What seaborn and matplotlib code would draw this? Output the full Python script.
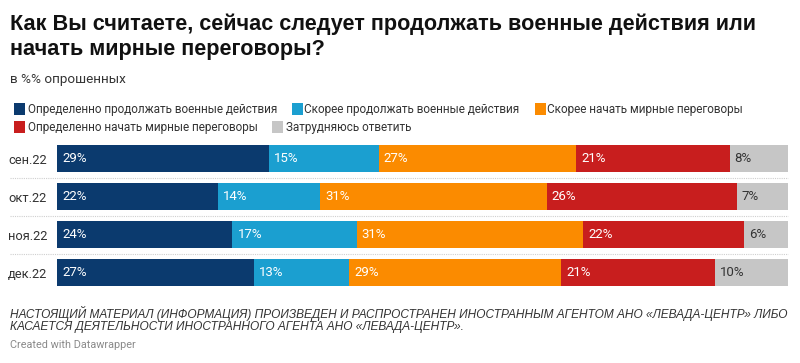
import matplotlib
matplotlib.use("Agg")
import matplotlib.pyplot as plt
import seaborn as sns
import numpy as np
import pandas as pd
from matplotlib.patches import Rectangle

# ---- data ----
months = ["сен.22", "окт.22", "ноя.22", "дек.22"]
series_names = [
    "Определенно продолжать военные действия",
    "Скорее продолжать военные действия",
    "Скорее начать мирные переговоры",
    "Определенно начать мирные переговоры",
    "Затрудняюсь ответить",
]
definitely_continue = [29, 22, 24, 27]
rather_continue = [15, 14, 17, 13]
rather_negotiate = [27, 31, 31, 29]
definitely_negotiate = [21, 26, 22, 21]
hard_to_say = [8, 7, 6, 10]

colors = ["#0b3a6e", "#1b9fd0", "#fb8b00", "#c81e1e", "#c6c6c6"]
label_colors = ["white", "white", "white", "white", "#333333"]

title = ("Как Вы считаете, сейчас следует продолжать военные действия или\n"
         "начать мирные переговоры?")
subtitle = "в %% опрошенных"
footer = ("НАСТОЯЩИЙ МАТЕРИАЛ (ИНФОРМАЦИЯ) ПРОИЗВЕДЕН И РАСПРОСТРАНЕН ИНОСТРАННЫМ АГЕНТОМ АНО «ЛЕВАДА-ЦЕНТР» ЛИБО\n"
          "КАСАЕТСЯ ДЕЯТЕЛЬНОСТИ ИНОСТРАННОГО АГЕНТА АНО «ЛЕВАДА-ЦЕНТР».")
credit = "Created with Datawrapper"

values = [definitely_continue, rather_continue, rather_negotiate,
          definitely_negotiate, hard_to_say]

df = pd.DataFrame({name: v for name, v in zip(series_names, values)})
df["month"] = months
cum = df[series_names].cumsum(axis=1)

sns.set_theme(style="white")
plt.rcParams["font.family"] = ["Roboto", "DejaVu Sans"]

W, H = 800, 363
fig = plt.figure(figsize=(W / 100, H / 100), dpi=100)
fig.patch.set_facecolor("white")

def fx(px):
    return px / W

def fy(py):
    return 1 - py / H

# axes placement
ax_left, ax_right = 57, 788
ax_top, ax_bot = 139.5, 291.5
ax = fig.add_axes([fx(ax_left), fy(ax_bot), (ax_right - ax_left) / W, (ax_bot - ax_top) / H])

# stacked bars: draw cumulative totals from largest to smallest
for i in reversed(range(len(series_names))):
    sns.barplot(x=cum[series_names[i]].values, y=months, order=months,
                color=colors[i], saturation=1, width=0.71, orient="h",
                ax=ax, linewidth=0)

ax.set_xlim(0, 100)
ax.set_ylim(3.5, -0.5)
for s in ax.spines.values():
    s.set_visible(False)
ax.set_xticks([])
ax.set_xlabel("")
ax.set_ylabel("")
ax.tick_params(axis="y", length=0, pad=7.2, labelsize=9.3, labelcolor="#333333")

# value labels
px_per_unit = (ax_right - ax_left) / 100
for i, name in enumerate(series_names):
    lefts = (cum[name] - df[name]).values
    for j, v in enumerate(df[name].values):
        ax.text(lefts[j] + 5 / px_per_unit, j, f"{v}%", va="center", ha="left",
                fontsize=9.5, color=label_colors[i])

# dotted separators
ax.hlines([0.5, 1.5, 2.5], xmin=(10 - ax_left) / px_per_unit, xmax=100,
          colors="#cfcfcf", linestyles=(0, (1, 1)), linewidth=0.8, clip_on=False)

# title & subtitle
title_font = ["Liberation Sans", "DejaVu Sans"]
fig.text(fx(10), fy(30), title.split("\n")[0], fontsize=15.6, fontweight="bold",
         family=title_font, color="#111111", va="baseline")
fig.text(fx(10), fy(55), title.split("\n")[1], fontsize=15.6, fontweight="bold",
         family=title_font, color="#111111", va="baseline")
fig.text(fx(10), fy(80), subtitle, fontsize=9.7, color="#333333", va="center")

# legend
legend_pos = [
    (14, 109, 28), (292, 109, 304), (535, 109, 547),
    (14, 127, 28), (272, 127, 286),
]
for (sx, sy, tx), name, c in zip(legend_pos, series_names, colors):
    fig.patches.append(Rectangle((fx(sx), fy(sy + 6)), 11 / W, 12 / H,
                                 transform=fig.transFigure, facecolor=c,
                                 edgecolor="none"))
    fig.text(fx(tx), fy(sy), name, fontsize=8.45, color="#333333", va="center")

# footer (one two-line text)
fig.text(fx(10), fy(319.5), footer, fontsize=8.55, style="italic",
         family=title_font, color="#333333", va="center", linespacing=1.05)
fig.text(fx(10), fy(345), credit, fontsize=7.8, color="#8a8a8a", va="center")

fig.savefig("out.png", dpi=100, facecolor="white")
